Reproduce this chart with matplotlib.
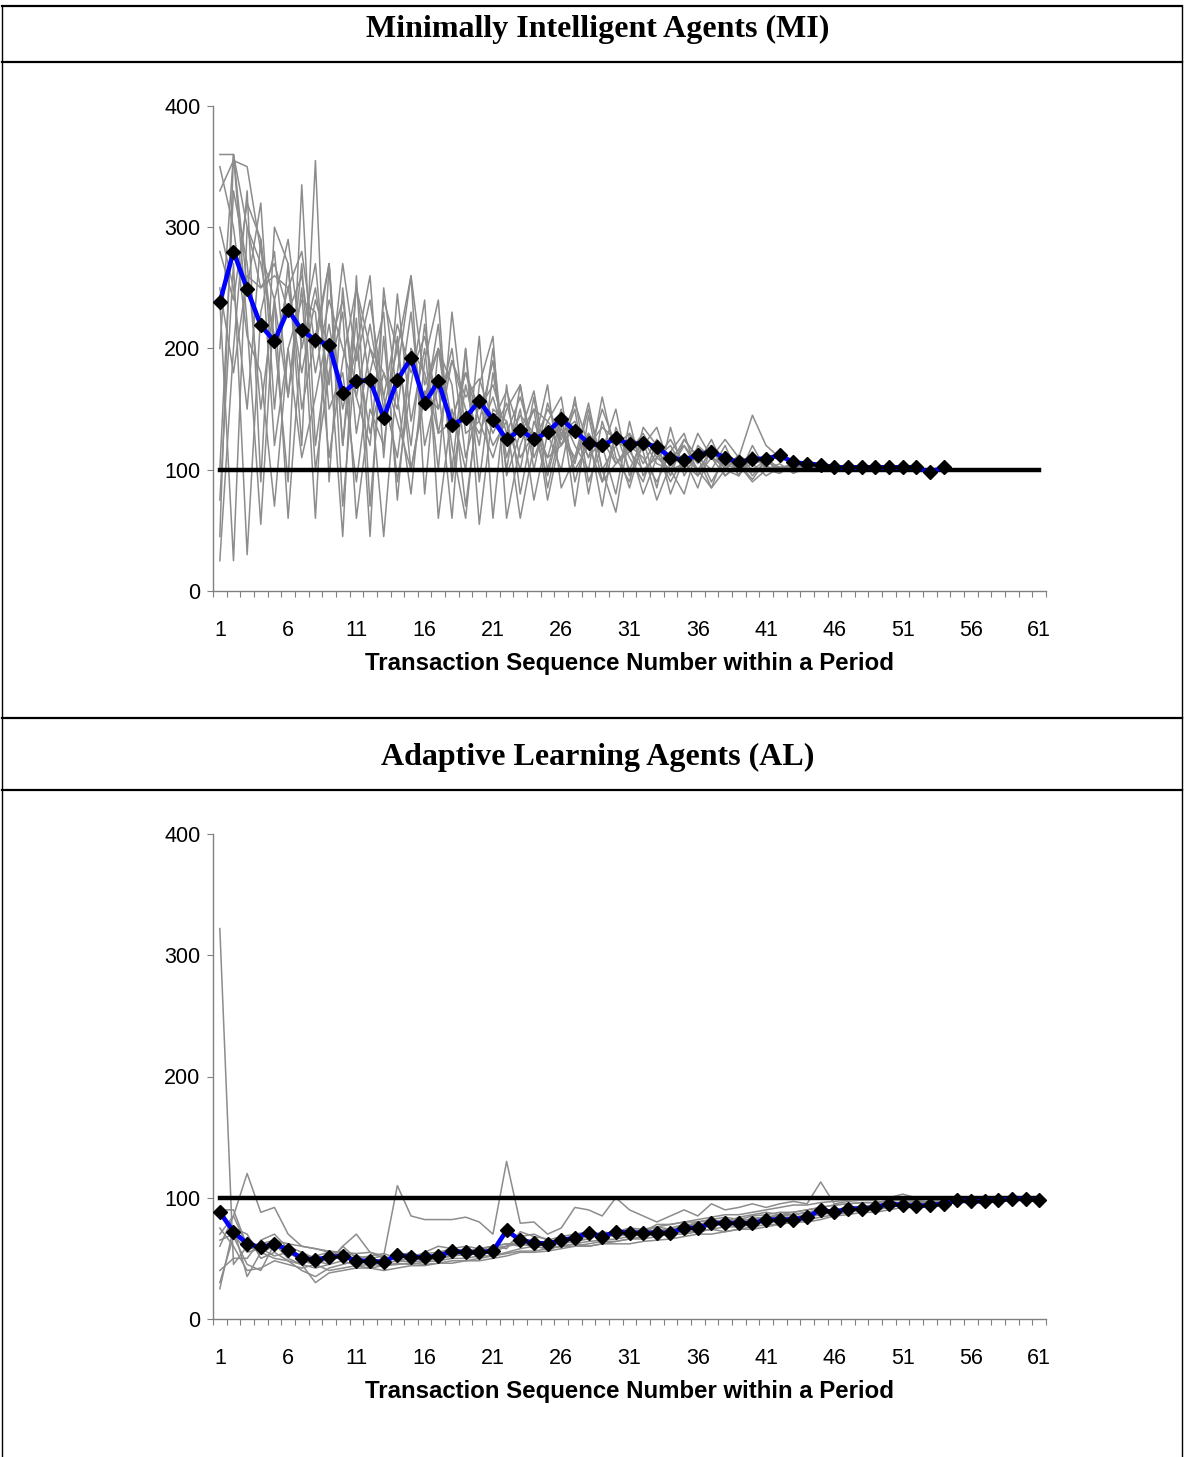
import matplotlib
matplotlib.use("Agg")
import matplotlib.pyplot as plt
from matplotlib.lines import Line2D

# Mean series (blue line, black diamonds)
mi_mean = [238, 280, 249, 219, 206, 232, 215, 207, 203, 163, 173, 174, 143, 174, 192,
           155, 173, 137, 143, 157, 141, 125, 133, 125, 131, 142, 132, 122, 120, 126,
           121, 122, 119, 110, 108, 112, 115, 110, 106, 109, 109, 112, 106, 105, 104,
           102, 102, 102, 102, 102, 102, 102, 98, 102]
al_mean = [88, 72, 62, 59, 62, 57, 50, 49, 51, 52, 48, 48, 47, 53, 51, 51, 52, 56, 55, 55,
           56, 73, 65, 63, 62, 65, 67, 71, 68, 72, 71, 71, 71, 71, 75, 75, 79, 79, 79, 79,
           82, 82, 82, 84, 90, 88, 91, 91, 92, 95, 94, 93, 94, 95, 98, 97, 97, 98, 99, 99, 98]

# Individual sessions (grey lines), estimated by eye
mi_runs = [
    [360, 360, 300, 250, 270, 230, 260, 180, 240, 200, 160, 220, 150, 200, 260, 170, 200, 140, 180, 150,
     170, 130, 160, 120, 150, 130, 140, 110, 150, 120, 130, 105, 125, 110, 120, 100, 115, 105, 110, 100,
     108, 102, 104, 100, 103, 101, 102, 100],
    [330, 355, 350, 280, 240, 290, 200, 250, 170, 270, 190, 240, 160, 220, 180, 210, 150, 190, 160, 175,
     140, 165, 130, 150, 140, 125, 155, 120, 135, 125, 115, 130, 110, 125, 105, 118, 110, 102, 112, 104,
     110, 100, 106, 101, 104, 100],
    [45, 360, 250, 320, 150, 270, 120, 355, 90, 250, 130, 200, 180, 150, 230, 120, 170, 60, 200, 90,
     180, 110, 150, 75, 130, 100, 160, 90, 120, 80, 140, 95, 115, 90, 110, 85, 120, 95, 105, 92,
     108, 98, 103, 99, 102],
    [240, 25, 300, 270, 210, 90, 335, 120, 200, 45, 260, 70, 210, 90, 170, 240, 60, 150, 100, 210,
     60, 170, 80, 140, 110, 150, 70, 145, 90, 130, 100, 125, 85, 135, 95, 115, 90, 110, 100, 105],
    [75, 270, 30, 230, 280, 160, 250, 60, 270, 120, 225, 45, 250, 160, 80, 190, 240, 90, 170, 120,
     200, 95, 130, 165, 100, 145, 120, 100, 160, 110, 90, 135, 120, 95, 125, 110, 100, 120, 95, 110,
     103, 99, 105],
    [25, 200, 330, 90, 300, 270, 150, 210, 270, 70, 200, 260, 110, 245, 140, 200, 100, 230, 130, 140,
     190, 100, 170, 110, 140, 160, 90, 130, 115, 150, 95, 120, 135, 100, 120, 105, 125, 100, 112, 95,
     108, 100, 103, 101, 102, 100, 101],
    [350, 300, 210, 180, 70, 200, 240, 230, 110, 190, 250, 170, 45, 180, 260, 80, 200, 170, 70, 160,
     130, 155, 110, 130, 95, 140, 105, 150, 100, 120, 85, 125, 105, 100, 80, 120, 110, 95, 104, 90,
     100, 102, 98, 103],
    [100, 330, 270, 150, 240, 60, 210, 270, 150, 180, 90, 180, 230, 75, 200, 150, 220, 100, 200, 55,
     150, 140, 60, 120, 170, 85, 110, 130, 70, 135, 110, 90, 125, 80, 110, 100, 85, 115, 95, 120,
     100, 105, 97, 102],
    [250, 180, 260, 250, 260, 250, 180, 240, 200, 240, 160, 120, 240, 200, 120, 220, 130, 190, 150, 130,
     160, 120, 145, 130, 110, 120, 135, 110, 125, 105, 115, 100, 110, 120, 100, 130, 110, 125, 110, 145,
     120, 110, 105, 100, 102],
    [300, 250, 150, 290, 200, 250, 280, 200, 270, 120, 250, 200, 160, 110, 200, 180, 130, 140, 180, 140,
     110, 150, 170, 100, 155, 120, 150, 80, 140, 105, 120, 110, 90, 115, 130, 95, 120, 100, 95, 115,
     100, 97, 104, 100],
    [200, 360, 220, 55, 240, 160, 270, 100, 180, 230, 60, 150, 120, 210, 100, 160, 200, 120, 60, 170,
     210, 60, 120, 150, 75, 130, 110, 155, 100, 65, 130, 115, 75, 105, 125, 110, 85, 100, 110, 105,
     95, 102, 100],
    [280, 240, 320, 290, 120, 200, 110, 160, 220, 150, 200, 130, 180, 140, 100, 165, 150, 200, 110, 155,
     120, 140, 100, 160, 85, 135, 100, 120, 90, 105, 120, 80, 110, 100, 105, 95, 110, 105, 100, 98,
     102, 100],
]
al_runs = [
    [322, 45, 60, 55, 50, 48, 45, 42, 45, 48, 44, 45, 46, 48, 47, 48, 50, 52, 53, 54,
     55, 60, 62, 60, 58, 60, 62, 64, 65, 66, 68, 70, 72, 72, 74, 76, 78, 78, 80, 80,
     82, 84, 84, 86, 88, 90, 92, 92, 93, 95, 96, 96, 97, 98, 98, 99, 99, 100, 99, 100, 99],
    [60, 85, 120, 88, 92, 70, 60, 58, 55, 55, 52, 50, 52, 110, 85, 82, 82, 82, 84, 80,
     70, 130, 79, 80, 70, 75, 92, 90, 85, 100, 90, 85, 80, 85, 90, 85, 95, 90, 92, 95,
     92, 95, 97, 95, 113, 95, 97, 98, 98, 100, 97, 99, 100, 100, 99, 100, 101, 100, 100, 100, 100],
    [25, 75, 35, 55, 60, 60, 55, 50, 48, 60, 70, 55, 50, 52, 50, 48, 50, 52, 55, 56,
     58, 60, 68, 70, 65, 68, 70, 72, 68, 72, 75, 74, 76, 78, 80, 80, 82, 84, 82, 85,
     86, 88, 88, 90, 92, 94, 95, 96, 96, 97, 98, 98, 99, 99, 100, 100, 100, 100, 100, 100, 100],
    [85, 75, 70, 50, 55, 48, 40, 35, 42, 45, 48, 45, 44, 45, 46, 45, 46, 48, 48, 50,
     52, 55, 58, 60, 58, 60, 62, 60, 62, 64, 66, 66, 68, 70, 70, 72, 74, 72, 74, 76,
     78, 78, 80, 80, 82, 85, 86, 88, 88, 90, 92, 92, 94, 95, 96, 96, 97, 98, 98, 99, 99],
    [30, 68, 45, 40, 62, 50, 45, 30, 38, 40, 42, 42, 40, 42, 44, 44, 46, 46, 48, 48,
     50, 52, 55, 55, 56, 58, 60, 60, 62, 62, 62, 64, 65, 66, 68, 70, 70, 72, 74, 74,
     76, 78, 80, 82, 84, 86, 88, 90, 90, 92, 94, 95, 96, 96, 97, 98, 98, 99, 99, 100, 100],
    [90, 90, 60, 62, 58, 60, 50, 52, 55, 52, 50, 52, 54, 50, 52, 54, 55, 58, 60, 58,
     60, 58, 72, 68, 66, 62, 64, 66, 70, 72, 72, 70, 74, 72, 76, 78, 80, 80, 82, 82,
     84, 85, 86, 88, 90, 90, 92, 93, 94, 96, 95, 96, 97, 98, 99, 99, 100, 100, 100, 100, 99],
    [70, 85, 60, 62, 65, 62, 60, 58, 56, 55, 54, 55, 52, 48, 50, 52, 50, 53, 55, 57,
     60, 62, 60, 64, 62, 66, 65, 68, 72, 70, 72, 74, 72, 75, 78, 78, 80, 82, 80, 83,
     84, 86, 86, 88, 90, 88, 92, 92, 94, 95, 96, 97, 97, 98, 98, 99, 99, 100, 100, 100, 100],
    [40, 50, 50, 65, 70, 58, 52, 48, 45, 60, 50, 48, 48, 52, 55, 50, 52, 55, 56, 58,
     60, 62, 62, 60, 62, 64, 66, 70, 66, 70, 74, 72, 78, 78, 80, 82, 84, 86, 86, 88,
     90, 92, 94, 94, 96, 97, 98, 100, 99, 100, 103, 100, 100, 100, 100, 100, 100, 100, 100, 100, 100],
    [75, 60, 40, 42, 48, 45, 42, 45, 40, 42, 44, 42, 44, 46, 45, 47, 48, 50, 50, 52,
     52, 54, 56, 56, 58, 60, 60, 62, 64, 64, 66, 68, 70, 70, 72, 72, 74, 76, 76, 78,
     80, 80, 82, 84, 86, 88, 90, 90, 92, 92, 94, 95, 96, 97, 98, 98, 99, 99, 100, 100, 100],
    [65, 70, 55, 58, 52, 55, 48, 45, 50, 52, 50, 48, 46, 48, 50, 55, 60, 58, 56, 55,
     58, 60, 64, 62, 60, 62, 66, 68, 70, 68, 70, 72, 76, 74, 76, 80, 82, 80, 84, 86,
     88, 86, 88, 90, 92, 94, 95, 96, 96, 98, 99, 98, 99, 100, 100, 100, 100, 100, 100, 100, 100],
]

n_trans = 61
equilibrium = [100] * n_trans
x_labels = list(range(1, n_trans + 1, 5))
y_ticks = [0, 100, 200, 300, 400]

titles = ["Minimally Intelligent Agents (MI)", "Adaptive Learning Agents (AL)"]
xlabel = "Transaction Sequence Number within a Period"

fig = plt.figure(figsize=(11.84, 14.57), dpi=100)

W, H = 1184, 1457
def fx(px):
    return px / W
def fy(py):
    return 1 - py / H

# table-like frame around the two panels
for py in [6, 62, 718, 790]:
    fig.add_artist(Line2D([fx(2), fx(1182)], [fy(py), fy(py)], color="black", lw=1.6))
for px in [2, 1181.5]:
    fig.add_artist(Line2D([fx(px), fx(px)], [fy(6), 0], color="black", lw=1.0))

fig.text(0.505, fy(29), titles[0], ha="center", va="center", family="Liberation Serif",
         fontweight="bold", fontsize=23)
fig.text(0.505, fy(757), titles[1], ha="center", va="center", family="Liberation Serif",
         fontweight="bold", fontsize=23)

panels = [(mi_runs, mi_mean, 106, 591), (al_runs, al_mean, 834, 1319)]
for runs, mean, top_px, bot_px in panels:
    ax = fig.add_axes([fx(213), fy(bot_px), fx(1046) - fx(213), fy(top_px) - fy(bot_px)])
    for r in runs:
        ax.plot(range(1, len(r) + 1), r, color="#8c8c8c", lw=1.1, zorder=2)
    ax.plot(range(1, n_trans + 1), equilibrium, color="black", lw=3.2, zorder=3)
    ax.plot(range(1, len(mean) + 1), mean, color="#0000ff", lw=3.3, marker="D", ms=7.5,
            mfc="black", mec="black", zorder=4)

    ax.set_xlim(0.5, n_trans + 0.5)
    ax.set_ylim(0, 400)
    ax.set_yticks(y_ticks)
    ax.set_xticks(x_labels)
    ax.set_xticks([i + 0.5 for i in range(0, n_trans + 1)], minor=True)
    ax.tick_params(axis="x", which="major", length=0, pad=21, labelsize=15.5)
    ax.tick_params(axis="x", which="minor", length=4, width=0.8, color="#808080", direction="out")
    ax.tick_params(axis="y", length=4, width=0.8, color="#808080", labelsize=15.5, pad=5)
    for lab in ax.get_xticklabels() + ax.get_yticklabels():
        lab.set_family("Liberation Sans")
    for s in ["top", "right"]:
        ax.spines[s].set_visible(False)
    for s in ["left", "bottom"]:
        ax.spines[s].set_color("#808080")
        ax.spines[s].set_linewidth(1.0)
    ax.set_xlabel(xlabel, family="Liberation Sans", fontweight="bold", fontsize=17.3, labelpad=8)

fig.savefig("out.png", dpi=100)
